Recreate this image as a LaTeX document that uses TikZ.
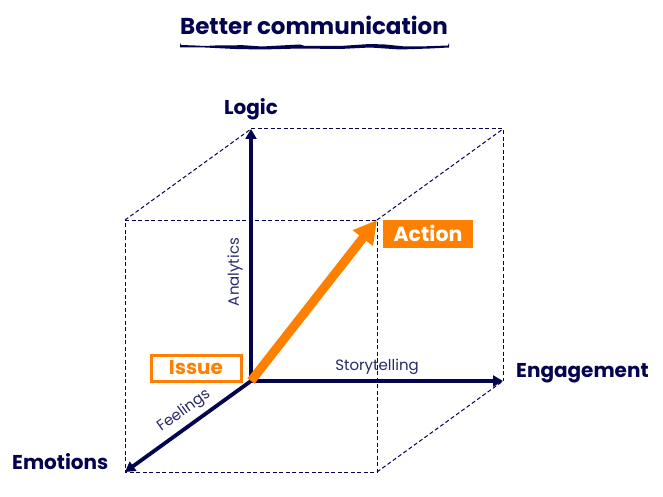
\documentclass[tikz,border=0pt]{standalone}
\usepackage{fontspec}
\setmainfont{Poppins}
\definecolor{navy}{HTML}{03034F}
\definecolor{org}{HTML}{FF8000}
\usetikzlibrary{arrows.meta}
\tikzset{
 axis/.style={draw=navy,line width=3.8pt,-{Triangle[length=10pt,width=11pt]}},
 cubeline/.style={draw=navy,line width=1pt,dash pattern=on 4pt off 2.5pt},
 bigl/.style={text=navy,font=\bfseries\fontsize{20}{22}\selectfont,inner sep=0pt},
 small/.style={text=navy!85,font=\fontsize{15}{17}\selectfont,inner sep=0pt},
}
\begin{document}
\begin{tikzpicture}[x=1pt,y=-1pt]
\useasboundingbox (0,0) rectangle (663,497);
\coordinate (O) at (251,381);
\coordinate (L) at (251,129);
\coordinate (En) at (503,381);
\coordinate (Em) at (125,472);
\coordinate (A) at (377,220);
\coordinate (FL) at (125,220);
\coordinate (FR) at (377,472);
\coordinate (BR) at (503,129);
\draw[cubeline] (FL) -- (A) -- (FR) -- (Em) -- cycle;
\draw[cubeline] (L) -- (BR) -- (En);
\draw[cubeline] (FL) -- (L);
\draw[cubeline] (A) -- (BR);
\draw[cubeline] (FR) -- (En);
\draw[axis] (O) -- (L);
\draw[axis] (O) -- (En);
\draw[axis] (O) -- (Em);
\draw[draw=org,line width=9pt,-{Triangle[length=23pt,width=24pt]}] (O) -- (A);
\node[bigl,font=\bfseries\fontsize{23}{26}\selectfont] (T) at (314,25) {Better communication};
\fill[navy] (180,43) -- (181,45) -- (195,45.5) -- (205,46) -- (215,45.5) -- (235,45.5) -- (240,45) -- (262,46.5) -- (290,45) -- (300,44.5) -- (305,46) -- (340,46) -- (370,44) -- (385,44.5) -- (405,46.5) -- (420,46.5) -- (448,45.5) -- (449,43) -- (449,47.5) -- (430,48.5) -- (400,49.5) -- (370,47.5) -- (340,49) -- (300,48.5) -- (262,49.5) -- (235,49) -- (205,47.5) -- (180,47.5) -- cycle;
\node[bigl] (NL) at (251,109) {Logic};
\node[bigl,anchor=west] (NEn) at (516,373) {Engagement};
\node[bigl,anchor=west] (NEm) at (12,462) {Emotions};
\node[small,rotate=90] (An) at (235,272) {Analytics};
\node[small] (St) at (377,367) {Storytelling};
\node[small,rotate=36] (Fe) at (184,411) {Feelings};
\node[fill=org,minimum width=90pt,minimum height=28pt,inner sep=0pt] (AcBox) at (428,234) {};
\node[text=white,font=\bfseries\fontsize{20.5}{23}\selectfont,inner sep=0pt] (Ac) at (428,233.5) {Action};
\node[draw=org,line width=3pt,text=org,font=\bfseries\fontsize{20}{22}\selectfont,minimum width=90pt,minimum height=26pt,inner sep=0pt] (Is) at (196,368) {Issue};
\end{tikzpicture}
\end{document}
